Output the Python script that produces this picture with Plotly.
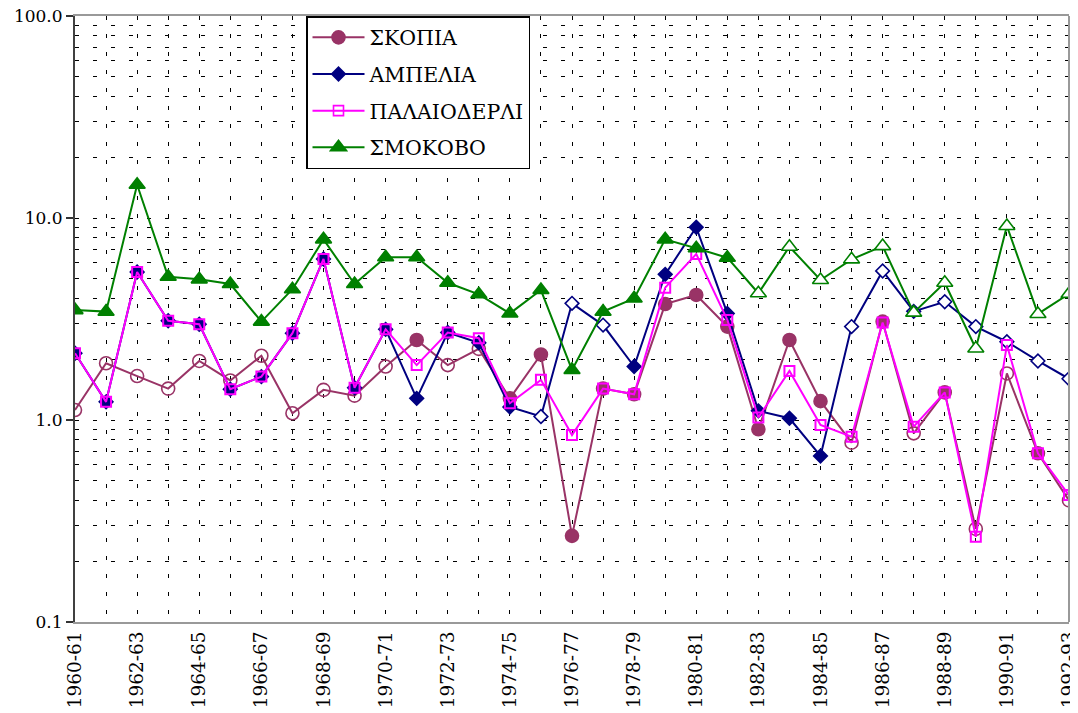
'''
Annual values at four stations (log scale), filled markers = measured, open = estimated
'''

import plotly.graph_objects as go

# hydrological years
years = [f"{y}-{str(y + 1)[2:]}" for y in range(1960, 1993)]

# station series
skopia = [1.12, 1.91, 1.65, 1.43, 1.96, 1.57, 2.08, 1.08, 1.41, 1.32,
          1.84, 2.49, 1.87, 2.25, 1.28, 2.11, 0.267, 1.43, 1.34, 3.75,
          4.16, 2.90, 0.90, 2.49, 1.24, 0.772, 3.07, 0.859, 1.37, 0.289,
          1.70, 0.684, 0.40]
skopia_filled = [0, 0, 0, 0, 0, 0, 0, 0, 0, 0,
                 0, 1, 0, 0, 1, 1, 1, 1, 1, 1,
                 1, 1, 1, 1, 1, 0, 1, 0, 1, 0,
                 0, 1, 0]

ampelia = [2.14, 1.23, 5.40, 3.10, 2.98, 1.42, 1.64, 2.69, 6.27, 1.445,
           2.81, 1.28, 2.71, 2.41, 1.16, 1.04, 3.78, 2.95, 1.84, 5.26,
           9.0, 3.37, 1.11, 1.02, 0.664, 2.90, 5.47, 3.45, 3.85, 2.90,
           2.44, 1.96, 1.60]
ampelia_filled = [1, 1, 1, 1, 1, 1, 1, 1, 1, 1,
                  1, 1, 1, 1, 1, 0, 0, 0, 1, 1,
                  1, 1, 1, 1, 1, 0, 0, 0, 0, 0,
                  0, 0, 0]

palaioderli = [2.14, 1.23, 5.40, 3.10, 2.98, 1.42, 1.64, 2.69, 6.27, 1.445,
               2.81, 1.87, 2.71, 2.54, 1.21, 1.58, 0.843, 1.43, 1.34, 4.52,
               6.63, 3.13, 1.03, 1.75, 0.944, 0.827, 3.04, 0.927, 1.37, 0.264,
               2.35, 0.684, 0.425]

smokovo = [3.50, 3.44, 14.6, 5.12, 4.97, 4.71, 3.07, 4.44, 7.84, 4.71,
           6.39, 6.39, 4.78, 4.19, 3.37, 4.40, 1.77, 3.44, 4.00, 7.84,
           7.08, 6.36, 4.24, 7.21, 4.93, 6.24, 7.26, 3.40, 4.78, 2.26,
           9.13, 3.35, 4.21]
smokovo_filled = [1] * 22 + [0] * 11

names = ["ΣΚΟΠΙΑ", "ΑΜΠΕΛΙΑ", "ΠΑΛΑΙΟΔΕΡΛΙ", "ΣΜΟΚΟΒΟ"]
colors = ["#993366", "#000080", "#FF00FF", "#008000"]

FONT = "DejaVu Serif"
GRIDDASH = "4px,14px"

fig = go.Figure()

# ΣΚΟΠΙΑ: open circles are see-through
fig.add_trace(go.Scatter(
    x=years, y=skopia, mode="lines+markers", showlegend=False,
    line=dict(color=colors[0], width=2),
    marker=dict(symbol=["circle" if f else "circle-open" for f in skopia_filled],
                size=13, color=colors[0],
                line=dict(color=colors[0], width=1.6))))

# ΑΜΠΕΛΙΑ: open diamonds are white filled
fig.add_trace(go.Scatter(
    x=years, y=ampelia, mode="lines+markers", showlegend=False,
    line=dict(color=colors[1], width=2),
    marker=dict(symbol="diamond", size=10.5,
                color=[colors[1] if f else "white" for f in ampelia_filled],
                line=dict(color=colors[1], width=1.6))))

fig.add_trace(go.Scatter(
    x=years, y=palaioderli, mode="lines+markers", showlegend=False,
    line=dict(color=colors[2], width=2),
    marker=dict(symbol="square-open", size=10, color=colors[2],
                line=dict(color=colors[2], width=2))))

fig.add_trace(go.Scatter(
    x=years, y=smokovo, mode="lines+markers", showlegend=False,
    line=dict(color=colors[3], width=2),
    marker=dict(symbol="triangle-up", size=14,
                color=[colors[3] if f else "white" for f in smokovo_filled],
                line=dict(color=colors[3], width=1.6))))

# legend entries (legend shows the filled style)
legend_symbols = [("circle", 13, colors[0]), ("diamond", 10.5, colors[1]),
                  ("square-open", 10, colors[2]), ("triangle-up", 14, colors[3])]
for name, col, (sym, sz, mcol) in zip(names, colors, legend_symbols):
    fig.add_trace(go.Scatter(
        x=[None], y=[None], mode="lines+markers", name=name, legendgroup=name,
        line=dict(color=col, width=2),
        marker=dict(symbol=sym, size=sz, color=mcol, line=dict(color=col, width=1.6))))

minor_vals = [m * 10 ** e for e in (-1, 0, 1) for m in range(2, 10)]

fig.update_xaxes(
    type="category", range=[0, len(years) - 1], automargin=False,
    tickvals=years,
    ticktext=[y if i % 2 == 0 else "" for i, y in enumerate(years)],
    tickangle=-90, tickfont=dict(family=FONT, size=18.5, color="black"),
    ticklabeloverflow="allow",
    ticks="", showgrid=True, gridcolor="black", gridwidth=1, griddash=GRIDDASH,
    showline=True, linecolor="#999999", linewidth=2, mirror=True,
    zeroline=False)

fig.update_yaxes(
    type="log", range=[-1, 2], automargin=False,
    tickvals=[0.1, 1, 10, 100], ticktext=["0.1", "1.0", "10.0", "100.0"],
    tickfont=dict(family=FONT, size=17, color="black"),
    ticklabeloverflow="allow",
    ticks="outside", ticklen=7, tickwidth=1.5, tickcolor="#333333",
    showgrid=True, gridcolor="black", gridwidth=1, griddash=GRIDDASH,
    minor=dict(tickvals=minor_vals, showgrid=True, gridcolor="black",
               gridwidth=1, griddash=GRIDDASH, ticks=""),
    showline=True, linecolor="#404040", linewidth=2, zeroline=False)

# right border in grey
fig.add_shape(type="line", xref="paper", yref="paper", x0=1, x1=1, y0=0, y1=1,
              line=dict(color="#999999", width=2))

# the page adds an 8px body margin, so the figure is 8px smaller and shifted
fig.update_layout(
    width=1070, height=705,
    margin=dict(l=67, r=9, t=8, b=91, autoexpand=False),
    paper_bgcolor="white", plot_bgcolor="white",
    font=dict(family=FONT, color="black"),
    legend=dict(x=0.2324, y=1, xanchor="left", yanchor="top",
                bgcolor="white", bordercolor="black", borderwidth=1.5,
                font=dict(family=FONT, size=20.5, color="black"),
                tracegroupgap=7, itemwidth=52),
)

fig.write_html("out.html")
